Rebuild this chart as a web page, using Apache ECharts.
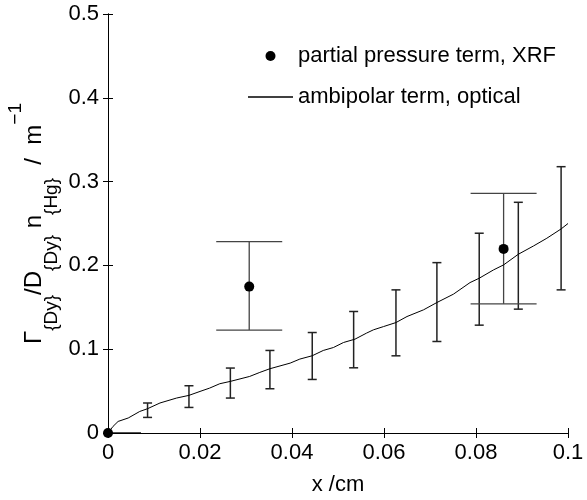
<!DOCTYPE html>
<html>
<head>
<meta charset="utf-8">
<script src="https://cdn.jsdelivr.net/npm/echarts@6/dist/echarts.min.js"></script>
<style>html,body{margin:0;padding:0;background:#fff;}#c{width:587px;height:500px;}</style>
</head>
<body>
<div id="c"></div>
<script>
// ---- data ----
const xTickLabels = ['0', '0.02', '0.04', '0.06', '0.08', '0.1'];
const yTickLabels = ['0', '0.1', '0.2', '0.3', '0.4', '0.5'];

// partial pressure term, XRF (points with vertical error bars)
const xrfX    = [0, 0.0307, 0.0860];
const xrfY    = [0, 0.1747, 0.2197];
const xrfLow  = [0, 0.1228, 0.1541];
const xrfHigh = [0, 0.2284, 0.2860];

// ambipolar term, optical (line)
const ambX = [0, 0.0011, 0.0022, 0.0044, 0.0069, 0.0086, 0.0113, 0.0149, 0.0176, 0.0200,
              0.0221, 0.0243, 0.0266, 0.0308, 0.0330, 0.0352, 0.0396, 0.0417, 0.0444, 0.0468,
              0.0490, 0.0512, 0.0537, 0.0562, 0.0577, 0.0599, 0.0626, 0.0650, 0.0686, 0.0715,
              0.0751, 0.0787, 0.0807, 0.0838, 0.0860, 0.0892, 0.0925, 0.0954, 0.0985, 0.1000];
const ambY = [0, 0.0079, 0.0138, 0.0179, 0.0257, 0.0290, 0.0358, 0.0417, 0.0449, 0.0496,
              0.0536, 0.0588, 0.0616, 0.0675, 0.0723, 0.0767, 0.0834, 0.0882, 0.0922, 0.0985,
              0.1020, 0.1080, 0.1120, 0.1192, 0.1231, 0.1270, 0.1318, 0.1390, 0.1470, 0.1557,
              0.1657, 0.1795, 0.1847, 0.1946, 0.2006, 0.2133, 0.2232, 0.2324, 0.2435, 0.2500];

// ambipolar error bars
const ambErrX    = [0.0086, 0.0176, 0.0266, 0.0352, 0.0444, 0.0534, 0.0626, 0.0715, 0.0807, 0.0892, 0.0985];
const ambErrLow  = [0.0186, 0.0305, 0.0417, 0.0528, 0.0639, 0.0778, 0.0921, 0.1092, 0.1287, 0.1478, 0.1708];
const ambErrHigh = [0.0358, 0.0564, 0.0775, 0.0985, 0.1199, 0.1450, 0.1708, 0.2033, 0.2384, 0.2753, 0.3178];

const xStep = 0.02, yStep = 0.1;
const FONT = 'Liberation Sans, Arial, Helvetica, sans-serif';

function errSeries(xs, lo, hi, capPx, color, width) {
  return {
    type: 'custom',
    clip: true,
    silent: true,
    z: 3,
    data: xs.map((x, i) => [x, lo[i], hi[i]]),
    encode: { x: 0, y: [1, 2] },
    renderItem: function (params, api) {
      const x = api.value(0), l = api.value(1), h = api.value(2);
      const pl = api.coord([x, l]), ph = api.coord([x, h]);
      const st = { stroke: color, lineWidth: width, fill: null };
      return {
        type: 'group',
        children: [
          { type: 'line', shape: { x1: pl[0], y1: pl[1], x2: ph[0], y2: ph[1] }, style: st },
          { type: 'line', shape: { x1: pl[0] - capPx, y1: pl[1], x2: pl[0] + capPx, y2: pl[1] }, style: st },
          { type: 'line', shape: { x1: ph[0] - capPx, y1: ph[1], x2: ph[0] + capPx, y2: ph[1] }, style: st }
        ]
      };
    }
  };
}

const axisLineStyle = { lineStyle: { color: '#000', width: 1 } };
const tickInside = { show: true, inside: true, length: 5, lineStyle: { color: '#000' } };

const chart = echarts.init(document.getElementById('c'), null, { renderer: 'canvas' });
chart.setOption({
  animation: false,
  backgroundColor: '#fff',
  textStyle: { fontFamily: FONT },
  grid: { left: 108, right: 19, top: 14, bottom: 67, containLabel: false, outerBoundsMode: 'none' },
  legend: {
    orient: 'vertical',
    left: 248,
    top: 45,
    padding: 0,
    itemWidth: 45,
    itemHeight: 10,
    itemGap: 19,
    textStyle: { fontSize: 22, color: '#000', fontFamily: FONT, lineHeight: 22 },
    data: [
      { name: 'partial pressure term, XRF', icon: 'circle', itemStyle: { color: '#000', opacity: 1 } },
      { name: 'ambipolar term, optical', icon: 'path://M0,0 H45 V1.3 H0 Z', itemStyle: { color: '#000' } }
    ]
  },
  xAxis: [
    {
      type: 'value', min: 0, max: 0.1, interval: xStep, position: 'bottom',
      axisLine: axisLineStyle, axisTick: tickInside, splitLine: { show: false },
      axisLabel: { color: '#000', fontSize: 22, fontFamily: FONT, margin: 9,
        formatter: v => xTickLabels[Math.round(v / xStep)] },
      name: 'x /cm', nameLocation: 'middle', nameGap: 41, nameMoveOverlap: false,
      nameTextStyle: { color: '#000', fontSize: 22, fontFamily: FONT }
    },
    {
      type: 'value', min: 0, max: 0.1, interval: xStep, position: 'top',
      axisLine: axisLineStyle, axisTick: tickInside, splitLine: { show: false },
      axisLabel: { show: false }
    }
  ],
  yAxis: [
    {
      type: 'value', min: 0, max: 0.5, interval: yStep, position: 'left',
      axisLine: axisLineStyle, axisTick: tickInside, splitLine: { show: false },
      axisLabel: { color: '#000', fontSize: 22, fontFamily: FONT, margin: 9,
        formatter: v => yTickLabels[Math.round(v / yStep)] },
      name: '{m|Γ}{s|{Dy}}{m|/D}{s|{Dy}}{m| n}{s|{Hg}}{m|  /  m}{p|−1}',
      nameLocation: 'middle', nameGap: 10, nameMoveOverlap: false,
      nameTextStyle: {
        color: '#000', fontSize: 19, fontFamily: FONT, lineHeight: 92,
        rich: {
          m: { fontSize: 24, fontFamily: FONT, color: '#000', lineHeight: 44, verticalAlign: 'top', padding: [16, 0, 0, 0] },
          s: { fontSize: 19, fontFamily: FONT, color: '#000', lineHeight: 92, verticalAlign: 'middle' },
          p: { fontSize: 19, fontFamily: FONT, color: '#000', lineHeight: 19, verticalAlign: 'top' }
        }
      }
    },
    {
      type: 'value', min: 0, max: 0.5, interval: yStep, position: 'right',
      axisLine: axisLineStyle, axisTick: tickInside, splitLine: { show: false },
      axisLabel: { show: false }
    }
  ],
  series: [
    errSeries(ambErrX, ambErrLow, ambErrHigh, 4.5, '#222', 1.5),
    errSeries(xrfX, xrfLow, xrfHigh, 33, '#444', 1.3),
    {
      name: 'ambipolar term, optical',
      type: 'line',
      symbol: 'none',
      lineStyle: { color: '#000', width: 1 },
      itemStyle: { color: '#000' },
      data: ambX.map((x, i) => [x, ambY[i]]),
      z: 4
    },
    {
      name: 'partial pressure term, XRF',
      type: 'scatter',
      symbol: 'circle',
      symbolSize: 10,
      itemStyle: { color: '#000', opacity: 1 },
      data: xrfX.map((x, i) => [x, xrfY[i]]),
      z: 5
    }
  ]
});
</script>
</body>
</html>
